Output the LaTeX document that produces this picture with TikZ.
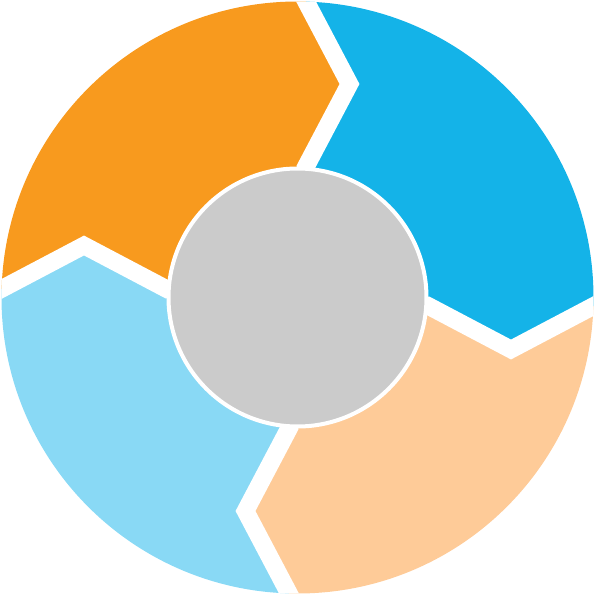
\documentclass[tikz,border=0pt]{standalone}
\usetikzlibrary{calc}
\definecolor{segorange}{HTML}{F89A1E}
\definecolor{segblue}{HTML}{14B3E8}
\definecolor{segpeach}{HTML}{FECB98}
\definecolor{seglight}{HTML}{89D9F5}
\definecolor{hubgray}{HTML}{CBCBCB}
\tikzset{gap/.style={draw=white,line width=17.6pt,line join=miter,miter limit=10}}
\tikzset{hub/.style={fill=hubgray,draw=white,line width=4pt}}

\begin{document}
\begin{tikzpicture}[x=1pt,y=1pt,line join=round]
  \useasboundingbox (-297.5,-297.5) rectangle (297.5,297.5);
  \begin{scope}
    \clip (0,0) circle (296);
    % four segments, turned clockwise
    \foreach \ang/\col in {0/segorange,-90/segblue,-180/segpeach,-270/seglight}{
      \fill[\col,rotate=\ang] (0,0)--(8,130)--(52,213.5)--(8,297)--(-14,339)--(-400,400)--(-339,-14)--(-297,8)--(-213.5,52)--(-130,8)--cycle;
    }
    % chevron gaps
    \foreach \ang in {0,-90,-180,-270}
      \draw[gap,rotate=\ang] (8,0)--(8,130)--(52,213.5)--(8,297)--(-14,339);
  \end{scope}
  \filldraw[hub] (0,0) circle (129);
\end{tikzpicture}
\end{document}
